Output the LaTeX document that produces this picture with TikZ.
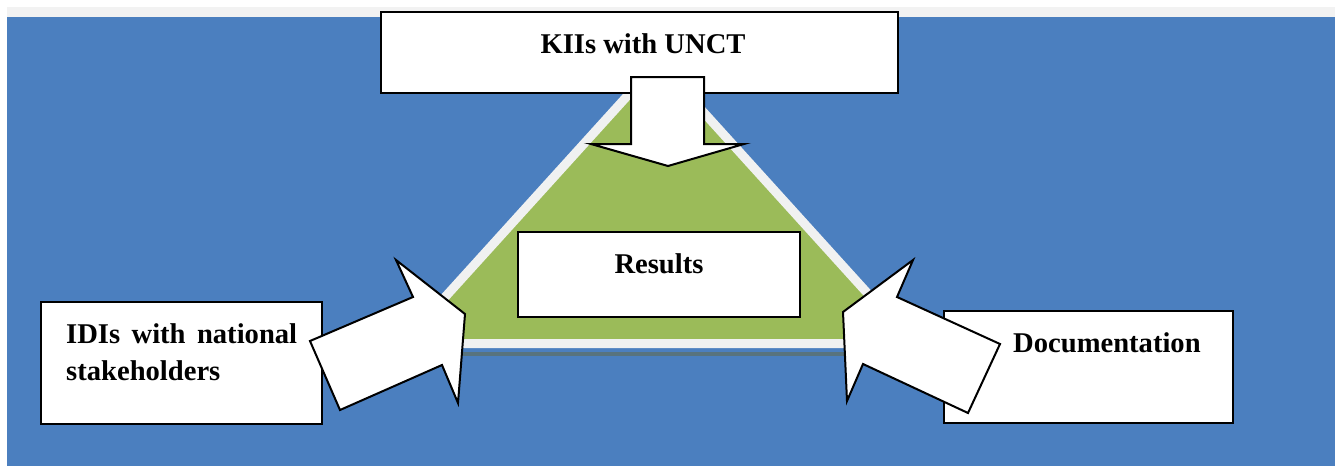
\documentclass[tikz,border=0pt]{standalone}
\usepackage{fontspec}
\setmainfont{Liberation Serif}
\definecolor{bgblue}{HTML}{4B7FBF}
\definecolor{stripgray}{HTML}{F2F2F2}
\definecolor{trigreen}{HTML}{9BBB59}
\definecolor{triborder}{HTML}{F0F1F1}
\definecolor{shadowc}{HTML}{58737E}
\begin{document}
\begin{tikzpicture}[x=1pt,y=-1pt,
  box/.style={draw=black, line width=2.5pt, fill=white, inner sep=0pt, outer sep=0pt},
  blockarrow/.style={draw=black, line width=2pt, fill=white, line join=miter},
  lbl/.style={font=\fontsize{28.6}{37}\selectfont\bfseries, inner sep=0pt, text=black}]
\useasboundingbox (0,0) rectangle (1335,466);
\fill[white] (0,0) rectangle (1335,466);
\fill[stripgray] (7,7) rectangle (1335,17);
\fill[bgblue] (7,17) rectangle (1335,466);
% triangle
\draw[shadowc, line width=4pt] (403,354) -- (913,354);
\filldraw[fill=trigreen, draw=triborder, line width=9pt, line join=miter] (658,62) -- (913,343.5) -- (403,343.5) -- cycle;
% results box
\node[box, minimum width=282pt, minimum height=85pt] (res) at (659,274.5) {};
\node[lbl, anchor=base] (restxt) at (659,273) {Results};
% top box
\node[box, minimum width=517pt, minimum height=81pt] (kii) at (639.5,52.5) {};
\node[lbl, anchor=base] (kiitxt) at (643,53) {KIIs with UNCT};
% down arrow
\draw[blockarrow] (631,77) -- (704,77) -- (704,144) -- (744,144) -- (668,166) -- (591,144) -- (631,144) -- cycle;
% left box
\node[box, minimum width=281pt, minimum height=122pt] (idi) at (181.5,363) {};
\node[lbl, anchor=base west] (iditxta) at (66,343) {\makebox[231pt][s]{IDIs with national}};
\node[lbl, anchor=base west] (iditxtb) at (66,380) {stakeholders};
% left arrow
\draw[blockarrow] (310,341) -- (413,297) -- (396,260) -- (465,314) -- (458,403) -- (442,365) -- (340,410) -- cycle;
% right box
\node[box, minimum width=289pt, minimum height=112pt] (doc) at (1088.5,367) {};
\node[lbl, anchor=base west] (doctxt) at (1013,352) {Documentation};
% right arrow
\draw[blockarrow] (1000,344) -- (897,297) -- (913,260) -- (843,312) -- (847,401) -- (863,364) -- (968,413) -- cycle;
\end{tikzpicture}
\end{document}
